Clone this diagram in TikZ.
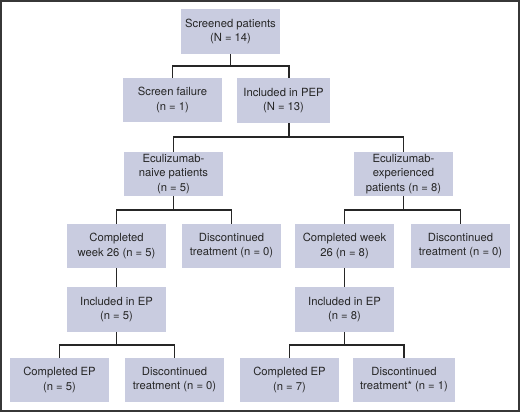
\documentclass[tikz,border=0pt]{standalone}
\usepackage{fontspec}
\setmainfont{TeX Gyre Heros}
\definecolor{boxfill}{RGB}{201,204,224}
\definecolor{txt}{RGB}{38,38,38}
\definecolor{frame}{RGB}{55,55,55}
\begin{document}
\begin{tikzpicture}[x=1bp,y=-1bp,
  flowbox/.style={fill=boxfill, draw=none, text=txt, align=center,
    font=\fontsize{11.3}{14.2}\selectfont, inner sep=0pt,
    minimum width=99bp, minimum height=44bp},
  link/.style={draw=black!85, line width=1.6bp}]
\useasboundingbox (0,0) rectangle (520,412);
\draw[draw=frame, line width=2bp] (1,1) rectangle (519,411);

\node[flowbox, minimum height=45bp] (scr) at (230.5,31.5) {Screened patients\\(N = 14)};
\node[flowbox] (fail) at (172.5,100) {Screen failure\\(n = 1)};
\node[flowbox, minimum width=93bp, minimum height=45bp] (pep) at (283.5,100.5) {Included in PEP\\(N = 13)};
\node[flowbox] (naive) at (173.5,174) {Eculizumab-\\naive patients\\(n = 5)};
\node[flowbox] (exper) at (403.5,174) {Eculizumab-\\experienced\\patients (n = 8)};
\node[flowbox] (cw5) at (116.5,246) {Completed\\week 26 (n = 5)};
\node[flowbox] (dis1) at (231.5,246) {Discontinued\\treatment (n = 0)};
\node[flowbox] (cw8) at (344.5,246) {Completed week\\26 (n = 8)};
\node[flowbox] (dis2) at (460.5,246) {Discontinued\\treatment (n = 0)};
\node[flowbox, minimum height=45bp] (ep5) at (116.5,309.5) {Included in EP\\(n = 5)};
\node[flowbox, minimum height=45bp] (ep8) at (344.5,309.5) {Included in EP\\(n = 8)};
\node[flowbox] (cep5) at (59.5,380) {Completed EP\\(n = 5)};
\node[flowbox] (dis3) at (174.5,380) {Discontinued\\treatment (n = 0)};
\node[flowbox] (cep7) at (289.5,380) {Completed EP\\(n = 7)};
\node[flowbox, minimum width=102bp] (dis4) at (404,380) {Discontinued\\treatment* (n = 1)};

\coordinate (pepdrop) at ([xshift=5.5bp]pep.north);
\coordinate (pepout) at ([xshift=5.5bp]pep.south);

\draw[link] (scr.south) -- ++(0,12) coordinate (j1);
\draw[link] (fail.north) |- (j1) -| (pepdrop);

\draw[link] (pepout) -- ++(0,14) coordinate (j2);
\draw[link] (naive.north) |- (j2) -| (exper.north);

\draw[link] (naive.south) -- ++(0,14) coordinate (j3);
\draw[link] (cw5.north) |- (j3) -| (dis1.north);

\draw[link] (exper.south) -- ++(0,14) coordinate (j4);
\draw[link] (cw8.north) |- (j4) -| (dis2.north);

\draw[link] (cw5.south) -- (ep5.north);
\draw[link] (cw8.south) -- (ep8.north);

\draw[link] (ep5.south) -- ++(0,13) coordinate (j5);
\draw[link] (cep5.north) |- (j5) -| (dis3.north);

\draw[link] (ep8.south) -- ++(0,13) coordinate (j6);
\draw[link] (cep7.north) |- (j6) -| (dis4.north);
\end{tikzpicture}
\end{document}
